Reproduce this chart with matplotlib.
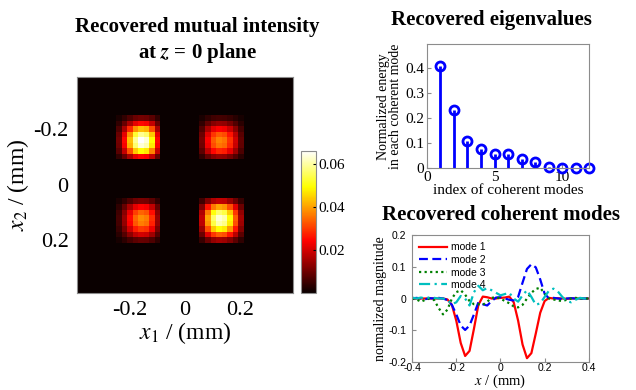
import numpy as np
import matplotlib
matplotlib.use("Agg")
import matplotlib.pyplot as plt

plt.rcParams["font.family"] = ["Liberation Serif", "DejaVu Serif"]
plt.rcParams["mathtext.fontset"] = "stix"

# ── data ──────────────────────────────────────────────────────────────────────
x_mm = np.linspace(-0.4, 0.4, 41)

mode1 = [0, 0, 0, 0, 0, 0, 0, 0, -0.003, -0.02,
         -0.07, -0.14, -0.181, -0.165, -0.095, -0.02, 0.006, 0.004, 0.0, 0.0,
         0.002, 0.003, 0.006, -0.012, -0.07, -0.145, -0.188, -0.172, -0.11, -0.045,
         -0.008, 0.002, 0.0, 0.001, 0.0, -0.001, 0.0, 0.0, 0.0, 0.0, 0.0]
mode2 = [0.0, 0.002, 0.0, -0.002, 0.001, 0.0, 0.002, 0.0, -0.005, -0.02,
         -0.05, -0.085, -0.099, -0.085, -0.05, -0.012, -0.018, -0.022, -0.008, 0.003,
         0.004, 0.0, -0.004, -0.006, 0.005, 0.05, 0.093, 0.108, 0.098, 0.06,
         0.015, 0.0, 0.002, 0.0, -0.002, 0.0, 0.001, 0.0, 0.0, 0.0, 0.0]
mode3 = [0.0, -0.003, -0.01, -0.004, 0.0, -0.005, -0.03, -0.05, -0.035, 0.0,
         0.02, 0.026, 0.012, -0.008, -0.018, -0.018, -0.02, -0.01, 0.002, 0.004,
         0.0, -0.008, -0.015, -0.025, -0.028, -0.02, 0.0, 0.018, 0.03, 0.034,
         0.015, 0.0, -0.003, -0.006, -0.008, -0.004, 0.0, 0.002, 0.0, 0.0, 0.0]
mode4 = [0.003, 0.0, 0.003, 0.0, 0.004, 0.002, 0.0, 0.0, -0.005, -0.018,
         -0.012, 0.008, 0.0, -0.022, 0.02, 0.04, 0.026, 0.033, 0.026, 0.018,
         0.01, 0.014, 0.018, 0.0, -0.01, 0.01, 0.026, 0.005, -0.02, -0.015,
         0.005, 0.025, 0.031, 0.022, 0.005, -0.008, -0.012, -0.004, 0.002, 0.0, 0.0]
mode_labels = ["mode 1", "mode 2", "mode 3", "mode 4"]

eig_index = [1, 2, 3, 4, 5, 6, 7, 8, 9, 10, 11, 12]
eig_values = [0.409, 0.233, 0.109, 0.077, 0.058, 0.056, 0.038, 0.024,
              0.004, 0.001, 0.001, 0.001]

# peak mutual intensity of the four spots (rows: x2 left/right lobe, cols: x1)
spot_peaks = [[0.066, 0.037],
              [0.038, 0.063]]

# ── mutual intensity image from the two mode-1 lobes ──────────────────────────
m1 = np.array(mode1)
lobe_l = np.clip(-m1, 0, None) * (x_mm < 0) * (x_mm > -0.3)
lobe_r = np.clip(-m1, 0, None) * (x_mm > 0) * (x_mm < 0.3)
lobes = [(lobe_l / lobe_l.max()) ** 0.45, (lobe_r / lobe_r.max()) ** 0.45]
J = sum(spot_peaks[i][j] * np.outer(lobes[i], lobes[j])
        for i in range(2) for j in range(2))
J = J[1:-1, 1:-1]  # image covers -0.38 .. 0.38

fig = plt.figure(figsize=(6.36, 3.9), dpi=100)
fig.patch.set_facecolor("white")
frame_col = "#8c8c8c"

# ── left: mutual intensity ────────────────────────────────────────────────────
ax = fig.add_axes([0.121, 0.249, 0.340, 0.554])
im = ax.imshow(J, cmap="hot", vmin=0, vmax=0.066, interpolation="nearest",
               extent=[-0.39, 0.39, 0.39, -0.39])
ax.set_xticks([-0.2, 0, 0.2])
ax.set_yticks([-0.2, 0, 0.2])
ax.set_xticklabels(["-0.2", "0", "0.2"])
ax.set_yticklabels(["-0.2", "0", "0.2"])
ax.tick_params(labelsize=16, length=0, pad=6)
ax.set_xlabel("$x_1$ / (mm)", fontsize=17, labelpad=0)
ax.set_ylabel("$x_2$ / (mm)", fontsize=17, labelpad=2)
for sp in ax.spines.values():
    sp.set_color(frame_col)
fig.text(0.31, 0.931, "Recovered mutual intensity", ha="center", va="center",
         fontsize=15, fontweight="bold")
fig.text(0.31, 0.864, "at $\\mathbfit{z}$ = 0 plane", ha="center", va="center",
         fontsize=15, fontweight="bold")

cax = fig.add_axes([0.473, 0.2495, 0.024, 0.364])
cb = fig.colorbar(im, cax=cax, ticks=[0.02, 0.04, 0.06])
cb.ax.set_yticklabels(["0.02", "0.04", "0.06"])
cb.ax.tick_params(labelsize=11, length=2, direction="in", pad=2)
cb.outline.set_edgecolor(frame_col)

# ── top right: eigenvalues ────────────────────────────────────────────────────
ax1 = fig.add_axes([0.671, 0.5685, 0.2557, 0.3187])
ml, sl, bl = ax1.stem(eig_index, eig_values, linefmt="b-", markerfmt="bo",
                      basefmt=" ")
ml.set_markerfacecolor("none")
ml.set_markersize(6.5)
ml.set_markeredgewidth(2)
ml.set_clip_on(False)
sl.set_linewidth(2)
ax1.set_xlim(0, 12)
ax1.set_ylim(0, 0.495)
ax1.set_xticks([0, 5, 10])
ax1.set_yticks([0, 0.1, 0.2, 0.3, 0.4])
ax1.set_yticklabels(["0", "0.1", "0.2", "0.3", "0.4"])
ax1.tick_params(labelsize=11, direction="in", length=3, color=frame_col, pad=2)
ax1.set_xlabel("index of coherent modes", fontsize=11, labelpad=0)
ax1.set_ylabel("Normalized energy\nin each coherent mode", fontsize=10,
               labelpad=2, linespacing=0.9)
for sp in ax1.spines.values():
    sp.set_color(frame_col)
fig.text(0.772, 0.949, "Recovered eigenvalues", ha="center", va="center",
         fontsize=15, fontweight="bold")

# ── bottom right: coherent modes ──────────────────────────────────────────────
ax2 = fig.add_axes([0.648, 0.0718, 0.2778, 0.3256])
styles = [("red", "-"), ("blue", (0, (4, 2))), ("green", (0, (1, 1.5))),
          ("#00bfbf", (0, (5, 2, 1, 2)))]
for m, lab, (c, ls) in zip([mode1, mode2, mode3, mode4], mode_labels, styles):
    ax2.plot(x_mm, m, color=c, linestyle=ls, linewidth=1.6, label=lab)
ax2.set_xlim(-0.4, 0.4)
ax2.set_ylim(-0.2, 0.2)
ax2.set_xticks([-0.4, -0.2, 0, 0.2, 0.4])
ax2.set_yticks([-0.2, -0.1, 0, 0.1, 0.2])
ax2.set_xticklabels(["-0.4", "-0.2", "0", "0.2", "0.4"],
                    family=["Liberation Sans", "DejaVu Sans"])
ax2.set_yticklabels(["-0.2", "-0.1", "0", "0.1", "0.2"],
                    family=["Liberation Sans", "DejaVu Sans"])
ax2.tick_params(labelsize=7.5, direction="in", length=3, color=frame_col)
ax2.tick_params(axis="x", pad=1)
ax2.tick_params(axis="y", pad=4)
ax2.set_xlabel("$x$ / (mm)", fontsize=10.5, labelpad=-0.5)
ax2.set_ylabel("normalized magnitude", fontsize=10, labelpad=1)
leg = ax2.legend(loc="upper left", frameon=False,
                 prop={"family": ["Liberation Sans", "DejaVu Sans"], "size": 7.5},
                 handlelength=2.6, labelspacing=0.25, borderaxespad=0.3,
                 handletextpad=0.4)
for sp in ax2.spines.values():
    sp.set_color(frame_col)
fig.text(0.788, 0.449, "Recovered coherent modes", ha="center", va="center",
         fontsize=15, fontweight="bold")

fig.savefig("out.png", dpi=100, facecolor="white")
